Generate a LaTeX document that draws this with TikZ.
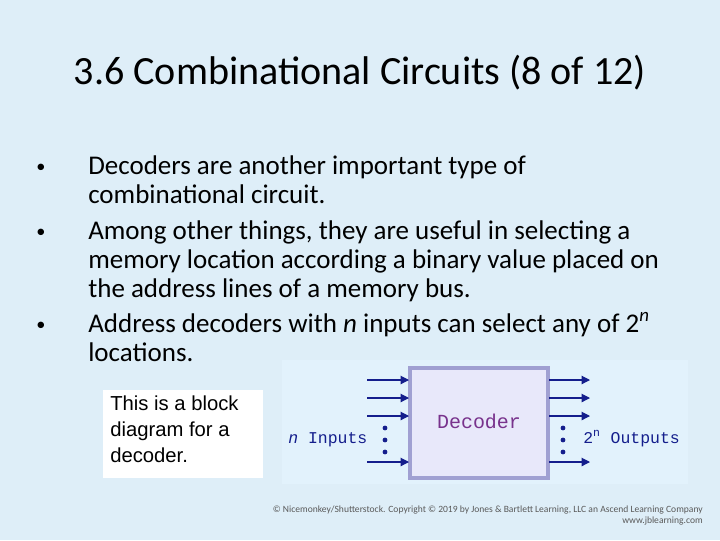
\documentclass[tikz,border=0pt]{standalone}
\usepackage{fontspec}
\setmainfont{Carlito}
\newfontfamily\arialfont{Liberation Sans}
\newfontfamily\monofont{Liberation Mono}
\usetikzlibrary{arrows.meta}
\definecolor{slidebg}{RGB}{222,238,248}
\definecolor{panelbg}{RGB}{226,242,252}
\definecolor{boxfill}{RGB}{232,232,250}
\definecolor{boxline}{RGB}{160,160,210}
\definecolor{wirecol}{RGB}{20,30,140}
\definecolor{decpurple}{RGB}{120,50,140}
\tikzset{
  bodytext/.style={anchor=base west,inner sep=0pt,font=\fontsize{19.2}{22}\selectfont},
  wire/.style={wirecol,thick,-{Triangle[length=6pt,width=6pt]}},
  dotmark/.style={circle,fill=wirecol,inner sep=0pt,minimum size=3.4pt},
  iolabel/.style={wirecol,anchor=base west,inner sep=0pt,font=\monofont\fontsize{11.7}{13}\selectfont},
}
\begin{document}
\begin{tikzpicture}[x=0.025cm,y=-0.025cm]
    % Background
    \fill[slidebg] (0,0) rectangle (720,540);
    \useasboundingbox (0,0) rectangle (720,540);

    % Title
    \node[font=\fontsize{28.5}{32}\selectfont] (title) at (360,73) {3.6 Combinational Circuits (8 of 12)};

    % Bullets
    \foreach \y in {174,239,332}
        \node[bodytext,font=\fontsize{13}{15}\selectfont] at (36,\y-2) {\textbullet};
    \node[bodytext] (b1) at (88,174) {Decoders are another important type of};
    \node[bodytext] (b1b) at (88,203) {combinational circuit.};
    \node[bodytext] (b2) at (88,239) {Among other things, they are useful in selecting a};
    \node[bodytext] (b2b) at (88,268) {memory location according a binary value placed on};
    \node[bodytext] (b2c) at (88,297) {the address lines of a memory bus.};
    \node[bodytext] (b3) at (88,332) {Address decoders with \textit{n} inputs can select any of 2\textsuperscript{\textit{n}}};
    \node[bodytext] (b3b) at (88,361) {locations.};

    % Caption box
    \fill[white] (103,390) rectangle (263,478);
    \node[anchor=north west,align=left,inner sep=0pt,font=\arialfont\fontsize{14.4}{18.5}\selectfont] (caption) at (110,396)
        {This is a block\\diagram for a\\decoder.};

    % Decoder panel
    \fill[panelbg] (282,360) rectangle (688,484);
    \fill[boxfill,draw=boxline,line width=2.2pt] (410,368) rectangle (548,478);
    \node[decpurple,font=\monofont\fontsize{14.2}{16}\selectfont] (declabel) at (479,421) {Decoder};

    % Inputs and outputs
    \foreach \y in {380,398,416,462} {
        \coordinate (in\y) at (367,\y);
        \coordinate (inE\y) at (409,\y);
        \draw[wire] (in\y) -- (inE\y);
        \coordinate (out\y) at (549,\y);
        \coordinate (outE\y) at (590,\y);
        \draw[wire] (out\y) -- (outE\y);
    }
    \foreach \y in {428,440,452} {
        \node[dotmark] at (385,\y) {};
        \node[dotmark] at (563,\y) {};
    }
    \node[iolabel] (inlabel) at (288,443) {\textit{n} Inputs};
    \node[iolabel] (outlabel) at (583,443) {2\textsuperscript{n} Outputs};

    % Credit
    \node[anchor=base east,inner sep=0pt,gray!70!black,font=\fontsize{6.8}{8}\selectfont] (credit) at (703,512)
        {\textcopyright{} Nicemonkey/Shutterstock. Copyright \textcopyright{} 2019 by Jones \& Bartlett Learning, LLC an Ascend Learning Company};
    \node[anchor=base east,inner sep=0pt,gray!70!black,font=\fontsize{6.8}{8}\selectfont] (url) at (703,523) {www.jblearning.com};
\end{tikzpicture}
\end{document}
